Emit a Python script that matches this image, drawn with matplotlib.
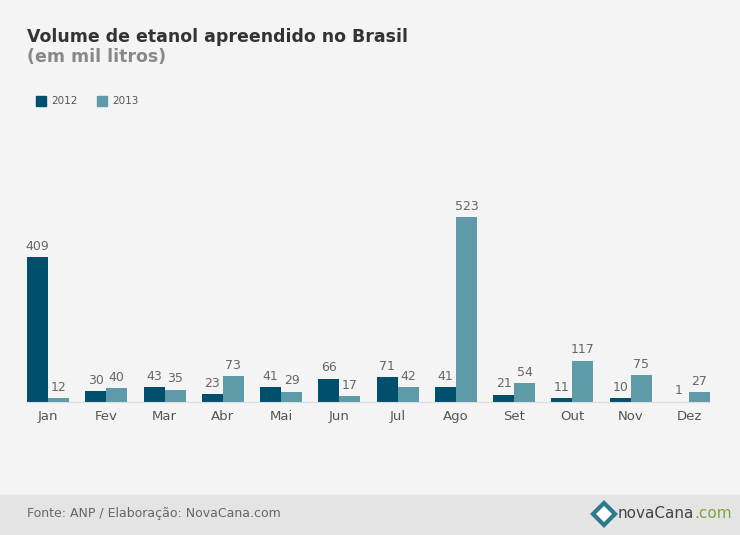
import matplotlib.pyplot as plt
from matplotlib.patches import Rectangle, Polygon

meses = ['Jan', 'Fev', 'Mar', 'Abr', 'Mai', 'Jun', 'Jul', 'Ago', 'Set', 'Out', 'Nov', 'Dez']
v2012 = [409, 30, 43, 23, 41, 66, 71, 41, 21, 11, 10, 1]
v2013 = [12, 40, 35, 73, 29, 17, 42, 523, 54, 117, 75, 27]

c12 = '#004f6d'
c13 = '#5f9aa8'
W, H = 740, 535

fig = plt.figure(figsize=(W / 100, H / 100), dpi=100, facecolor='#f4f4f4')

# rodape
fig.patches.append(Rectangle((0, 0), 1, 40 / H, transform=fig.transFigure,
                             color='#e4e4e4', zorder=0))
fig.text(27 / W, 1 - 514 / H, 'Fonte: ANP / Elaboração: NovaCana.com',
         fontsize=9, color='#666666', va='center')

ax = fig.add_axes([27 / W, 1 - 402 / H, 683 / W, 282 / H])
ax.set_facecolor('none')
x = list(range(len(meses)))
bw = 0.36
b1 = ax.bar([i - bw / 2 for i in x], v2012, bw, color=c12)
b2 = ax.bar([i + bw / 2 for i in x], v2013, bw, color=c13)
for bars, vals in ((b1, v2012), (b2, v2013)):
    for r, v in zip(bars, vals):
        ax.text(r.get_x() + r.get_width() / 2, v + 12, str(v), ha='center',
                va='bottom', fontsize=9, color='#666666')
ax.set_xlim(-0.36, 11.36)
ax.set_ylim(0, 523 * 282 / 185)
ax.set_xticks(x)
ax.set_xticklabels(meses, fontsize=9.5, color='#555555')
ax.tick_params(axis='x', length=0, pad=6)
ax.set_yticks([])
for s in ['top', 'right', 'left']:
    ax.spines[s].set_visible(False)
ax.spines['bottom'].set_color('#dddddd')

fig.text(27 / W, 1 - 37 / H, 'Volume de etanol apreendido no Brasil',
         fontsize=12.5, color='#333333', va='center', fontweight='semibold')
fig.text(27 / W, 1 - 57 / H, '(em mil litros)', fontsize=12.5,
         color='#888888', va='center', fontweight='semibold')

# legenda
for px, c, lab in ((36, c12, '2012'), (97, c13, '2013')):
    fig.patches.append(Rectangle((px / W, 1 - 106 / H), 10 / W, 10 / H,
                                 transform=fig.transFigure, color=c))
    fig.text((px + 15) / W, 1 - 101 / H, lab, fontsize=7.5,
             color='#555555', va='center')

# logo
cx, cy = 604, 514
fig.patches.append(Polygon([((cx - 11) / W, 1 - cy / H), (cx / W, 1 - (cy - 11) / H),
                            ((cx + 11) / W, 1 - cy / H), (cx / W, 1 - (cy + 11) / H)],
                           closed=True, transform=fig.transFigure,
                           facecolor='white', edgecolor='#2d7a8c', linewidth=3))
t = fig.text(618 / W, 1 - 514 / H, 'novaCana', fontsize=11, color='#444444', va='center')
fig.canvas.draw()
bb = t.get_window_extent()
fig.text(bb.x1 / fig.bbox.width, 1 - 514 / H, '.com', fontsize=11,
         color='#7aa63a', va='center')

fig.savefig('out.png', dpi=100, facecolor=fig.get_facecolor())
